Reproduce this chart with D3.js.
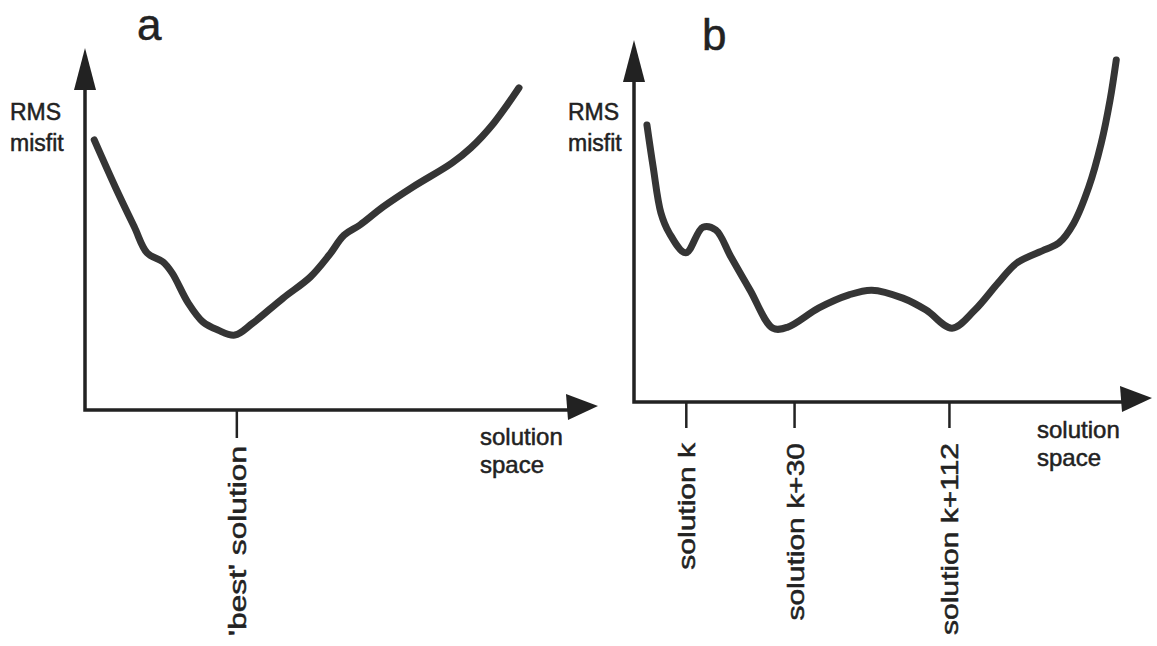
<!DOCTYPE html>
<html>
<head>
<meta charset="utf-8">
<script src="https://cdn.jsdelivr.net/npm/d3@7"></script>
<style>
  body { margin: 0; background: #fff; }
  text { font-family: "Liberation Sans", Arial, sans-serif; fill: #222; stroke: #222; stroke-width: 0.5px; }
</style>
</head>
<body>
<svg id="chart" width="1157" height="646"></svg>
<script>
// panel a: one smooth valley
const curveA_x = [1.8, 5.9, 9.6, 12.1, 15.2, 17.0, 20.1, 23.0, 25.9, 29.2, 32.7, 38.6, 43.9, 47.6, 50.5, 53.6, 58.1, 63.9, 71.5, 75.2, 79.7, 84.6];
const curveA_y = [74.6, 61.6, 50.6, 43.4, 40.9, 37.8, 29.6, 24.3, 22.1, 20.7, 24.0, 30.9, 36.7, 42.8, 48.3, 51.1, 56.1, 61.6, 68.2, 72.4, 79.3, 89.0];
const ticksA = [29.5];
const tickLabelsA = ["'best' solution"];

// panel b: several local minima
const curveB_x = [2.5, 3.7, 5.2, 6.8, 10.0, 13.3, 15.8, 18.7, 22.4, 26.8, 29.7, 35.7, 41.5, 45.9, 51.9, 56.4, 61.4, 65.8, 70.3, 73.9, 79.2, 82.0, 84.9, 87.8, 90.2, 91.9, 93.1];
const curveB_y = [76.5, 64.9, 52.2, 46.7, 41.2, 48.3, 47.5, 40.1, 30.9, 20.4, 20.7, 26.0, 29.6, 30.9, 28.7, 25.4, 20.4, 25.4, 32.9, 38.4, 42.0, 43.9, 49.4, 59.4, 71.5, 83.4, 94.5];
const ticksB = [10.0, 30.9, 60.8];
const tickLabelsB = ["solution k", "solution k+30", "solution k+112"];

const svg = d3.select("#chart");

const panels = [
  { letter: "a", xs: curveA_x, ys: curveA_y, ticks: ticksA, labels: tickLabelsA,
    left: 85, right: 598, bottom: 410, top: 48, tickLen: 28, labelTop: 446, stretch: 1.32,
    letterPos: [137, 40], yLabelPos: [10, 120], xLabelPos: [480, 445] },
  { letter: "b", xs: curveB_x, ys: curveB_y, ticks: ticksB, labels: tickLabelsB,
    left: 634, right: 1152, bottom: 402, top: 40, tickLen: 26, labelTop: 443, stretch: 1.25,
    letterPos: [702, 50], yLabelPos: [568, 120], xLabelPos: [1037, 438] }
];

panels.forEach(p => {
  const g = svg.append("g");
  const x = d3.scaleLinear().domain([0, 100]).range([p.left, p.right]);
  const y = d3.scaleLinear().domain([0, 100]).range([p.bottom, p.top]);

  // axis lines with arrow heads
  g.append("path")
    .attr("d", `M${x(0)},${y(100) + 30}L${x(0)},${y(0)}L${x(100) - 25},${y(0)}`)
    .attr("fill", "none")
    .attr("stroke", "#222")
    .attr("stroke-width", 3.5);
  g.append("path")
    .attr("d", `M${x(0)},${y(100)}L${x(0) - 11},${y(100) + 42}L${x(0) + 11},${y(100) + 42}Z`)
    .attr("fill", "#222");
  g.append("path")
    .attr("d", `M${x(100)},${y(0) - 4}L${x(100) - 32},${y(0) - 16}L${x(100) - 30},${y(0) + 10}Z`)
    .attr("fill", "#222");

  // ticks with rotated labels
  const axis = d3.axisBottom(x)
    .tickValues(p.ticks)
    .tickSize(p.tickLen)
    .tickSizeOuter(0)
    .tickFormat((d, i) => p.labels[i]);
  const ax = g.append("g")
    .attr("transform", `translate(0,${y(0)})`)
    .call(axis);
  ax.select(".domain").remove();
  ax.selectAll(".tick line").attr("stroke", "#222").attr("stroke-width", 2.5);
  ax.selectAll(".tick text")
    .attr("x", 0).attr("y", 0).attr("dy", null)
    .attr("text-anchor", "end")
    .attr("font-size", 24)
    .attr("font-family", "Liberation Sans, Arial, sans-serif")
    .attr("fill", "#222")
    .attr("transform", `translate(9,${p.labelTop - y(0)}) rotate(-90) scale(${p.stretch},1)`);

  // the curve
  const pts = p.xs.map((v, i) => [v, p.ys[i]]);
  g.append("path")
    .datum(pts)
    .attr("fill", "none")
    .attr("stroke", "#353535")
    .attr("stroke-width", 7)
    .attr("stroke-linecap", "round")
    .attr("stroke-linejoin", "round")
    .attr("d", d3.line()
      .curve(d3.curveCatmullRom.alpha(0.5))
      .x(d => x(d[0]))
      .y(d => y(d[1])));

  // texts
  g.append("text")
    .attr("x", p.letterPos[0]).attr("y", p.letterPos[1])
    .attr("font-size", 44)
    .text(p.letter);
  const yl = g.append("text")
    .attr("x", p.yLabelPos[0]).attr("y", p.yLabelPos[1])
    .attr("font-size", 23);
  yl.append("tspan").attr("x", p.yLabelPos[0]).text("RMS");
  yl.append("tspan").attr("x", p.yLabelPos[0]).attr("dy", 31).text("misfit");
  const xl = g.append("text")
    .attr("x", p.xLabelPos[0]).attr("y", p.xLabelPos[1])
    .attr("font-size", 24);
  xl.append("tspan").attr("x", p.xLabelPos[0]).text("solution");
  xl.append("tspan").attr("x", p.xLabelPos[0]).attr("dy", 28).text("space");
});
</script>
</body>
</html>
